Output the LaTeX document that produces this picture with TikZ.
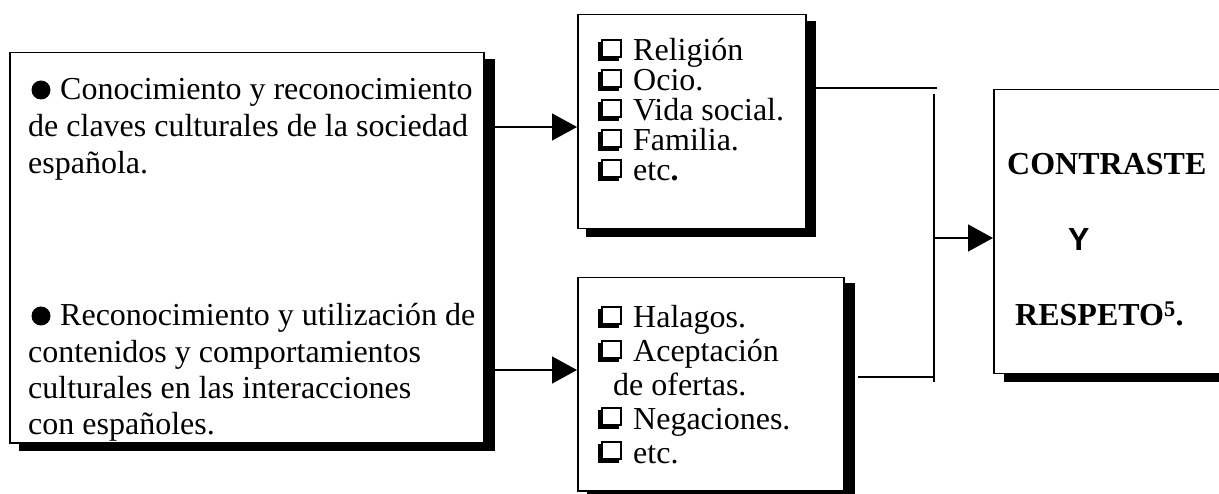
\documentclass[tikz,border=0pt]{standalone}
\usepackage{fontspec}
\setmainfont{Liberation Serif}
\newfontfamily\arialfont{Liberation Sans}
\usetikzlibrary{arrows.meta,calc}
% shadowed check square (drawn with rules)
\newcommand\chk{\begingroup\setlength\unitlength{1pt}\begin{picture}(24,22)
  \put(0,0){\rule{21pt}{5pt}}
  \put(0,0){\rule{5pt}{19pt}}
  \put(3,3){\rule{2pt}{19pt}}
  \put(3,3){\rule{21pt}{2pt}}
  \put(3,20){\rule{21pt}{2pt}}
  \put(22,3){\rule{2pt}{19pt}}
\end{picture}\endgroup\hspace*{11pt}}
\begin{document}
\begin{tikzpicture}[x=1pt,y=-1pt,
  box/.style={draw=black, line width=1.5pt, fill=white, inner sep=0pt, anchor=north west},
  txt/.style={anchor=base west, inner sep=0pt},
  dot/.style={circle, fill=black, inner sep=0pt, minimum size=19pt},
  conn/.style={line width=1.5pt},
  arr/.style={conn, -{Triangle[length=25pt,width=27pt]}}]
\useasboundingbox (0,0) rectangle (1219,494);
\clip (0,0) rectangle (1219,494);

% left box
\node[box, minimum width=474pt, minimum height=390pt] (L) at (9,52) {};
\fill ($(L.north east)+(0,7)$) rectangle ($(L.south east)+(10,7)$);
\fill ($(L.south west)+(10,0)$) rectangle ($(L.south east)+(10,7)$);
% top middle box
\node[box, minimum width=228pt, minimum height=214pt] (T) at (577,14) {};
\fill ($(T.north east)+(0,7)$) rectangle ($(T.south east)+(9,8)$);
\fill ($(T.south west)+(9,0)$) rectangle ($(T.south east)+(9,8)$);
% bottom middle box
\node[box, minimum width=266pt, minimum height=213pt] (B) at (577,277) {};
\fill ($(B.north east)+(0,6)$) rectangle ($(B.south east)+(10,8)$);
\fill ($(B.south west)+(10,0)$) rectangle ($(B.south east)+(10,8)$);
% right box
\node[box, minimum width=270pt, minimum height=284pt] (R) at (993,89) {};
\fill ($(R.south west)+(11,0)$) rectangle ($(R.south east)+(10,8)$);

% bullets
\node[dot] (d1) at (41,90) {};
\node[dot] (d2) at (41,316) {};

% texts
\node[txt] (l1) at (28,100) {\parbox[t]{480pt}{\fontsize{32}{37}\selectfont
  \hspace*{32pt}Conocimiento y reconocimiento\\de claves culturales de la sociedad\\española.}};
\node[txt] (l2) at (28,326) {\parbox[t]{480pt}{\fontsize{32}{36.3}\selectfont
  \hspace*{32pt}Reconocimiento y utilización de\\contenidos y comportamientos\\culturales en las interacciones\\con españoles.}};
\node[txt] (t1) at (598,61) {\parbox[t]{220pt}{\fontsize{32}{30}\selectfont
  \chk Religión\\\chk Ocio.\\\chk Vida social.\\\chk Familia.\\\chk etc\textbf{.}}};
\node[txt] (b1) at (598,328) {\parbox[t]{240pt}{\fontsize{32}{33.8}\selectfont
  \chk Halagos.\\\chk Aceptación\\\hspace*{15pt}de ofertas.\\\chk Negaciones.\\\chk etc.}};
\node[txt, font=\fontsize{32}{37}\selectfont\bfseries] (c1) at (1007,175) {CONTRASTE};
\node[txt, font=\fontsize{32}{37}\selectfont\arialfont\bfseries] (c2) at (1068,251) {Y};
\node[txt, font=\fontsize{32}{37}\selectfont\bfseries] (c3) at (1015,326) {RESPETO\textsuperscript{5}.};

% connectors
\coordinate (a1) at (493,127);
\coordinate (a2) at (493,370);
\draw[arr] (a1) -- (a1 -| T.west);
\draw[arr] (a2) -- (a2 -| B.west);
\coordinate (j1) at (814,88);
\coordinate (j1e) at (937,88);
\draw[conn] (j1) -- (j1e);
\coordinate (vt) at (934,94);
\coordinate (vb) at (934,382);
\draw[conn] (vt) -- (vb);
\coordinate (j2) at (858,377);
\draw[conn] (j2) -- (j2 -| vb);
\coordinate (a3) at (934,238);
\draw[arr] (a3) -- (a3 -| R.west);
\end{tikzpicture}
\end{document}
